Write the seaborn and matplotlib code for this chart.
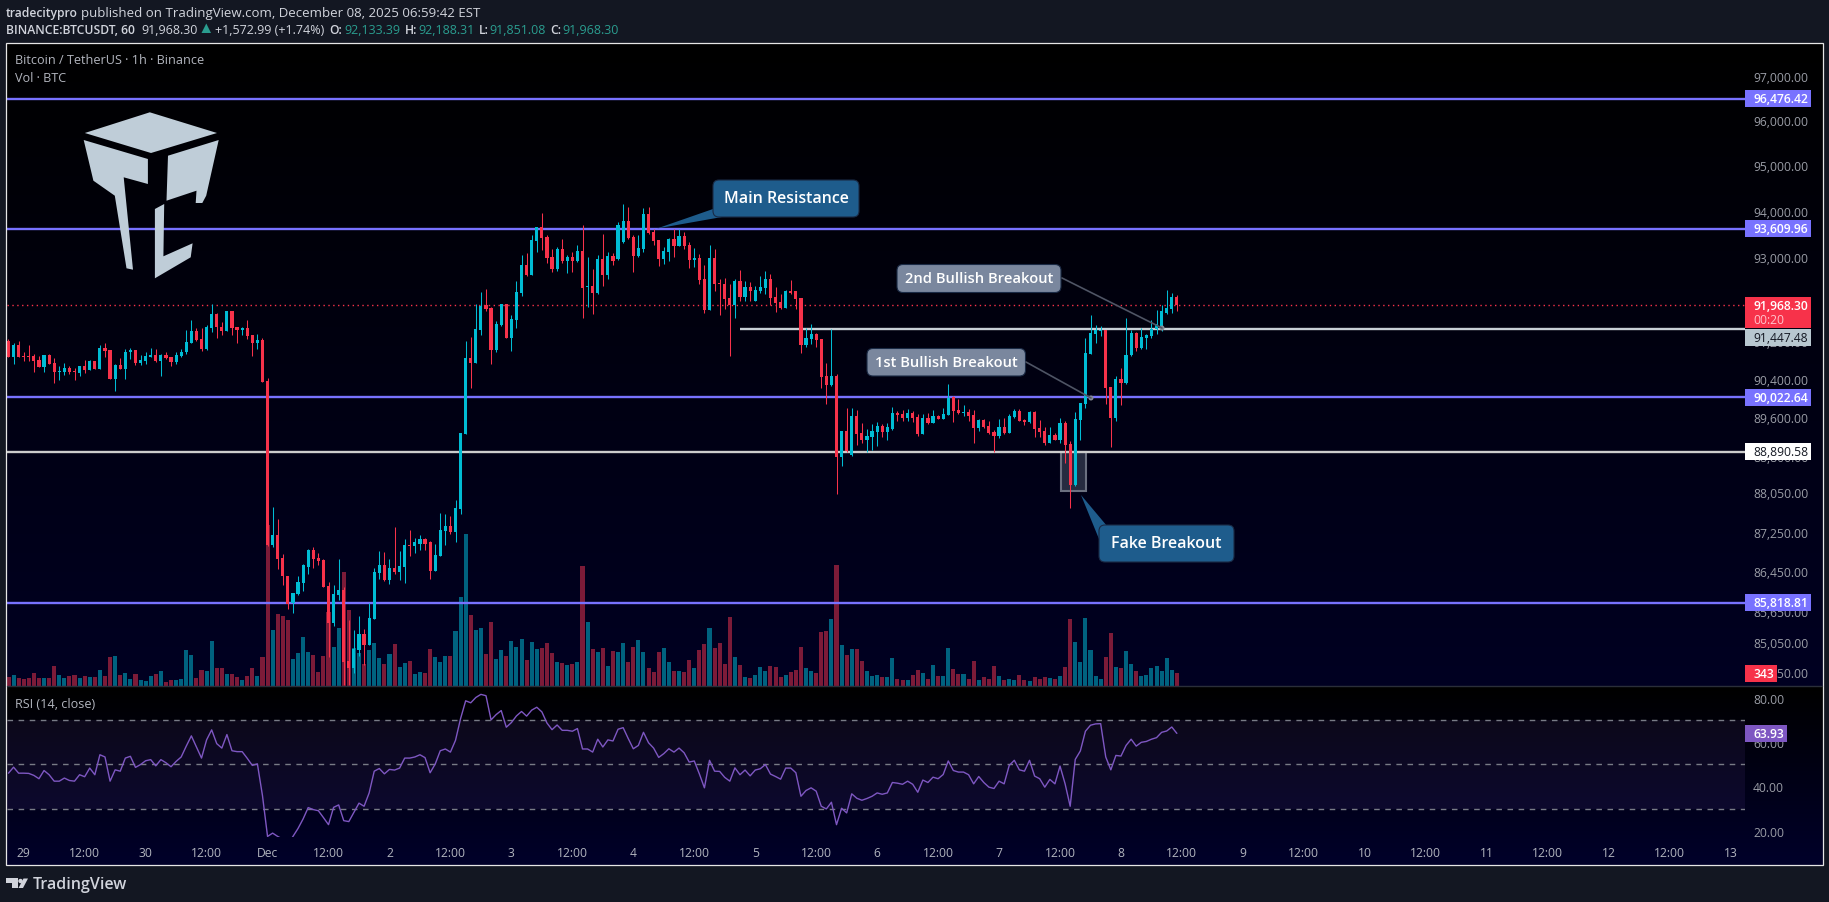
import numpy as np
import pandas as pd
import matplotlib
matplotlib.use("Agg")
import matplotlib.pyplot as plt
import seaborn as sns
from matplotlib.colors import LinearSegmentedColormap
from matplotlib.patches import Rectangle, Polygon, FancyBboxPatch, Circle
from matplotlib.ticker import NullLocator

# BTCUSDT 1h candles, first one is 21:00 on Nov 28
opens = [
    91210,90870,91120,90890,90890,90890,90810,90660,90910,90740,
    90550,90550,90640,90570,90530,90680,90590,90790,90620,91060,
    91020,90400,90700,90620,90960,91020,90740,90790,90870,90910,
    90790,90910,90870,90760,90890,90960,91170,91420,91250,91040,
    91470,91780,91510,91420,91830,91490,91440,91470,91320,91170,
    91230,90360,86990,87194,86730,86366,85820,86003,86225,86548,
    86891,86730,86670,86164,85417,85983,86084,84670,84529,84892,
    85195,84993,85498,86427,86588,86285,86528,86447,86548,86992,
    86972,87012,87113,87033,86467,86770,87275,87376,87255,87719,
    89246,90850,90740,91444,91968,91910,91019,91550,91997,91274,
    91652,92233,92835,92620,93352,93653,93438,93007,92749,93180,
    92921,93007,92921,93137,92362,92384,92233,92964,92620,93022,
    92964,93323,93782,93437,93029,93179,93932,93545,93373,92964,
    93115,93394,93244,93459,93265,92943,92986,92534,91867,92986,
    92448,92426,92125,91960,92491,92147,92362,92061,92276,92340,
    92534,92147,92039,91910,92276,92276,92125,91112,91238,91342,
    91238,90463,90274,90463,88778,89326,88820,89621,89284,89136,
    89199,89305,89410,89305,89368,89685,89666,89582,89693,89610,
    89246,89582,89477,89624,89561,89645,90022,89749,89686,89707,
    89645,89372,89540,89414,89288,89204,89393,89267,89603,89728,
    89540,89498,89707,89372,89309,89078,89225,89120,89477,89057,
    88204,89540,89875,90924,91342,91405,91426,90233,89582,90400,
    90316,90903,91363,91049,91259,91300,91447,91512,91803,91879,92133]
closes = [
    90870,91120,90870,90870,90870,90790,90660,90910,90720,90550,
    90570,90640,90550,90550,90680,90590,90790,90620,91060,91000,
    90400,90700,90620,90980,91020,90740,90810,90890,90910,90790,
    90910,90850,90760,90910,90980,91190,91420,91230,91040,91490,
    91780,91490,91420,91830,91470,91440,91470,91300,91170,91230,
    90340,86992,87194,86710,86350,85801,86023,86245,86570,86891,
    86710,86650,86144,85417,86003,86084,84650,84529,84913,85195,
    84993,85518,86447,86588,86285,86528,86447,86568,86992,86972,
    87033,87113,87012,86467,86790,87295,87376,87255,87739,89267,
    90850,90740,91465,91953,91889,91019,91566,91997,91274,91674,
    92255,92835,92620,93373,93653,93416,92986,92749,93180,92921,
    93007,92921,93137,92341,92384,92233,92964,92620,93029,92921,
    93696,93782,93416,93029,93201,93932,93523,93351,92964,93136,
    93394,93244,93459,93244,92943,92986,92513,91867,92986,92426,
    92426,92104,91960,92491,92147,92362,92276,92297,92362,92534,
    92125,92018,91910,92276,92233,92104,91112,91258,91342,91217,
    90442,90274,90463,88778,89326,88904,89621,89263,89136,89220,
    89326,89410,89305,89389,89685,89642,89582,89686,89582,89246,
    89582,89477,89624,89561,89666,90000,89728,89686,89707,89624,
    89372,89540,89393,89267,89204,89393,89267,89624,89728,89519,
    89498,89707,89351,89288,89078,89225,89120,89477,89036,88204,
    89561,89896,90944,91363,91426,91426,90212,89582,90400,90316,
    90903,91363,91049,91280,91321,91447,91555,91836,91900,92133,91968]
highs = [
    91250,91170,91210,90980,91120,90930,90890,90910,90920,90850,
    90680,90740,90680,90640,90680,90810,90810,90790,91120,91170,
    91020,90720,90850,91040,91060,91020,90910,90960,91060,91040,
    90930,90980,90870,90960,91040,91440,91640,91470,91470,91550,
    92000,91800,91610,91850,91830,91490,91510,91640,91340,91360,
    91270,90424,87759,87517,86810,86366,86023,86366,86590,86911,
    86952,86830,86710,86245,86185,86690,86144,85478,85276,85559,
    85296,85821,86528,86871,86851,86690,87356,86871,87113,87295,
    87134,87194,87134,87073,87012,87638,87618,87578,87900,89267,
    91210,91295,91990,92255,92319,91925,91631,91997,91997,91760,
    92491,93050,93094,93481,93653,93954,93481,93180,93223,93395,
    93050,93115,93266,93696,93007,92749,93050,93502,93115,93093,
    93753,94147,94083,93480,93480,94061,94083,93609,93373,93215,
    93409,93609,93609,93538,93323,93201,93072,92835,93265,93179,
    92534,92556,92426,92534,92728,92491,92469,92383,92599,92706,
    92642,92362,92211,92297,92513,92276,92125,91480,91566,91363,
    91238,90735,91468,90505,89326,89790,89790,89748,89474,89368,
    89453,89495,89453,89474,89811,89727,89749,89770,89728,89666,
    89666,89686,89749,89645,89791,90295,90043,89980,89854,89770,
    89749,89561,89561,89519,89330,89561,89582,89666,89770,89770,
    89561,89728,89728,89540,89393,89393,89267,89582,89519,89099,
    89707,89896,91259,91749,91533,91512,91426,90233,90463,90630,
    91685,91426,91384,91469,91342,91641,91857,91965,92289,92225,92188]
lows = [
    90860,90720,90860,90790,90790,90550,90650,90550,90710,90320,
    90380,90490,90510,90380,90470,90530,90590,90620,90620,90870,
    90400,90150,90620,90400,90830,90700,90700,90720,90870,90760,
    90470,90830,90680,90720,90870,90930,91150,91210,91000,91020,
    91400,91270,91340,91420,91320,91170,91320,91250,90890,91040,
    90340,86972,86950,86490,86185,85700,85620,85983,86063,86407,
    86528,86570,86144,84751,85357,85882,84190,84190,84428,84771,
    84590,84993,85498,86306,86265,86205,86407,86285,86225,86770,
    86830,86891,86891,86306,86467,86770,86992,87214,87053,87618,
    89246,90212,90740,91340,91846,90722,90980,91530,91274,90998,
    91480,92168,92599,92620,93115,93158,92878,92685,92706,92878,
    92663,92685,92900,91695,91932,91781,92212,92384,92534,92835,
    92943,93308,93394,92685,93007,93115,93502,93251,92799,92857,
    92907,93000,93229,93179,92763,92792,92426,91803,91867,92276,
    91760,91889,90889,91695,92061,92061,92061,92061,92233,92211,
    91975,91824,91889,91910,92211,91889,90944,91070,91133,91070,
    90212,89874,90253,88018,88588,88883,88799,89031,89073,88890,
    88925,89010,89199,89136,89347,89516,89519,89519,89498,89211,
    89246,89456,89477,89561,89561,89645,89498,89666,89624,89519,
    89078,89309,89372,89246,88890,89162,89246,89267,89582,89519,
    89435,89477,89183,89183,89036,89078,89120,89078,88648,87739,
    88183,89120,89791,90924,91154,91300,89875,88995,89519,89854,
    90295,90882,90986,91028,91028,91259,91342,91405,91782,91792,91851]
volumes = [
    246,299,220,194,220,352,220,220,220,537,
    299,220,273,299,220,273,246,246,431,273,
    774,801,299,352,194,326,167,141,273,326,
    405,114,167,167,194,959,827,220,431,405,
    1197,484,484,326,326,246,167,273,484,273,
    774,4259,1487,1910,1857,1751,722,880,1302,906,
    827,378,801,1962,1038,1540,3018,2015,1012,880,
    590,959,1144,748,590,854,1118,510,616,669,
    326,378,352,986,774,642,801,801,1461,2358,
    4022,1883,1487,1540,854,1698,722,959,801,1197,
    1038,1250,695,1170,986,1012,1144,880,642,616,
    563,590,642,3177,1698,986,906,1003,528,924,
    898,1135,634,1030,1214,898,475,370,898,1003,
    634,396,396,370,686,475,950,1109,1531,1003,
    1135,581,1822,766,554,238,211,290,502,396,
    528,502,238,290,370,422,1030,475,396,343,
    1426,1452,1769,3194,1082,818,977,977,660,396,
    264,290,238,238,739,185,158,158,290,422,
    343,185,554,264,264,1003,449,317,317,185,
    660,158,238,185,528,264,158,185,158,290,
    158,132,238,185,238,211,185,264,502,1769,
    1162,634,1795,950,264,185,766,1399,502,475,
    924,581,396,264,290,475,528,396,739,422,343]
rsi = [
    46.0,48.7,46.0,46.0,45.9,45.0,43.5,47.2,45.3,42.4,
    42.4,43.8,42.7,42.4,45.3,44.4,48.3,45.3,54.3,53.3,
    42.4,47.5,46.9,52.8,53.6,48.6,49.9,51.6,52.1,49.3,
    52.1,50.7,48.9,51.3,53.3,58.2,62.8,57.8,52.8,61.0,
    65.5,59.3,57.3,63.4,56.1,55.7,55.7,52.7,49.5,50.2,
    35.9,17.5,19.0,17.5,16.3,14.1,17.5,21.1,25.4,30.5,
    29.6,29.1,26.0,22.8,30.6,31.7,24.6,24.2,28.4,32.5,
    31.1,37.1,46.9,48.1,45.7,47.7,47.4,48.3,52.8,52.8,
    53.3,54.3,53.0,46.2,50.1,56.1,56.9,55.5,60.8,70.6,
    78.6,77.7,80.1,81.5,80.9,70.0,72.4,74.2,66.7,68.8,
    71.8,73.8,71.7,74.4,75.7,73.6,68.6,65.6,67.7,65.3,
    65.3,64.9,66.1,56.9,56.9,55.5,61.3,57.8,61.0,60.5,
    65.8,66.5,61.6,57.0,58.5,64.4,59.7,57.3,53.1,54.8,
    57.0,55.5,57.3,55.2,51.0,51.5,45.7,39.4,51.8,46.9,
    46.8,44.1,42.4,48.4,45.3,47.4,44.8,47.4,48.0,49.9,
    45.6,44.5,43.3,48.3,48.3,46.2,35.6,38.2,39.4,37.9,
    31.1,29.9,32.9,22.8,30.2,28.1,36.7,34.7,33.8,34.6,
    35.6,37.1,36.5,37.1,41.8,41.5,41.0,42.4,41.0,37.4,
    42.9,41.8,44.2,43.5,45.4,51.5,47.2,46.5,46.5,45.3,
    41.2,44.5,41.8,39.7,39.1,42.4,41.2,49.5,51.8,47.5,
    46.9,51.8,44.7,43.5,39.7,43.2,41.2,49.2,41.2,31.1,
    52.2,56.0,64.9,67.6,68.2,68.3,53.3,47.5,54.0,53.7,
    58.5,61.3,58.2,59.9,60.3,61.3,62.0,64.4,65.0,66.8,63.93]

purple_levels = [96476.42, 93609.96, 90022.64, 85818.81]
white_levels = [91447.48, 88890.58]
last_price = 91968.30
price_ticks = [97000,96000,95000,94000,93000,92000,91200,90400,89600,88800,88050,87250,86450,85650,85050,84450]
rsi_ticks = [80, 60, 40, 20]
rsi_bands = [70, 50, 30]
day_labels = ["29","30","Dec","2","3","4","5","6","7","8","9","10","11","12","13"]

# COLORS
FIG_BG = "#131722"
UP = "#00bcd4"
DOWN = "#f7324a"
VOL_UP = "#00627f"
VOL_DOWN = "#7c1b38"
PURPLE = "#7872ff"
AXIS_TXT = "#9a9da6"
TXT = "#b2b5be"

sns.set_theme(style="dark")
plt.rcParams["font.family"] = ["Open Sans", "DejaVu Sans"]
W, H = 1829, 903


def px_axes(x0, y0, x1, y1, **kw):
    # axes from pixel box, y measured from the top
    return fig.add_axes([x0 / W, 1 - y1 / H, (x1 - x0) / W, (y1 - y0) / H], **kw)


fig = plt.figure(figsize=(W / 100, H / 100), dpi=100, facecolor=FIG_BG)

# pane backgrounds
for box, end in [((6, 44, 1823, 687), "#000022"), ((6, 687, 1823, 866), "#00002a")]:
    bg = px_axes(*box, zorder=0)
    cmap = LinearSegmentedColormap.from_list("pane", ["#000000", end])
    bg.imshow(np.linspace(0, 1, 256).reshape(-1, 1), aspect="auto", cmap=cmap)
    bg.axis("off")

df = pd.DataFrame({"hour": np.arange(-3, 228), "open": opens, "high": highs, "low": lows,
                   "close": closes, "volume": volumes, "rsi": rsi})
df["up"] = df["close"] >= df["open"]
XLIM = (-3.29, 338.84)

# VOLUME
ax_vol = px_axes(7, 44, 1745, 687, zorder=1)
sns.barplot(data=df, x="hour", y="volume", hue="up", native_scale=True, dodge=False,
            palette={True: VOL_UP, False: VOL_DOWN}, saturation=1, width=0.8,
            legend=False, linewidth=0, ax=ax_vol)
ax_vol.set(xlim=XLIM, ylim=(0, 16975), xlabel="", ylabel="", xticks=[], yticks=[])
ax_vol.patch.set_alpha(0)
for s in ax_vol.spines.values():
    s.set_visible(False)

# CANDLES
ax = px_axes(7, 44, 1745, 687, zorder=2)
ax.patch.set_alpha(0)
ax.set_yscale("log")
colors = [UP if u else DOWN for u in df["up"]]
ax.vlines(df["hour"], df["low"], df["high"], colors=colors, lw=0.75, zorder=3)
body_low = df[["open", "close"]].min(axis=1)
body_high = df[["open", "close"]].max(axis=1)
ax.bar(df["hour"], (body_high - body_low).clip(lower=12), bottom=body_low, width=0.62,
       color=colors, linewidth=0, zorder=4)
ax.hlines(purple_levels, *XLIM, colors=PURPLE, lw=1.7, zorder=2)
ax.hlines(white_levels[0], 141, XLIM[1], colors="#c8d0d6", lw=1.7, zorder=2)
ax.hlines(white_levels[1], *XLIM, colors="#cccccc", lw=1.7, zorder=2)
ax.hlines(last_price, *XLIM, colors=DOWN, lw=1, linestyles=(0, (1, 2.5)), zorder=2)
ax.add_patch(Rectangle((204.1, 88080), 5.1, 88890 - 88080, fc="#262b40", ec="#6b7080", lw=1.5, zorder=1))
ax.set_xlim(XLIM)
ax.set_ylim(84180, 97739)
ax.yaxis.tick_right()
ax.yaxis.set_minor_locator(NullLocator())
ax.set_yticks(price_ticks, [f"{t:,.2f}" for t in price_ticks])
ax.tick_params(axis="y", length=0, pad=5.8, labelsize=8.7, labelcolor=AXIS_TXT)
ax.tick_params(axis="y", which="minor", length=0)
ax.set_xticks([])
for s in ax.spines.values():
    s.set_visible(False)

# RSI
ax_rsi = px_axes(7, 687, 1745, 838, zorder=2)
ax_rsi.patch.set_alpha(0)
ax_rsi.axhspan(30, 70, color="#7e57c2", alpha=0.1, lw=0)
ax_rsi.hlines(rsi_bands, *XLIM, colors="#787b86", lw=1, linestyles=(0, (4, 4)))
sns.lineplot(data=df, x="hour", y="rsi", color="#7e57c2", linewidth=1, ax=ax_rsi)
ax_rsi.set(xlim=XLIM, ylim=(17.25, 85.27), xlabel="", ylabel="")
ax_rsi.yaxis.tick_right()
ax_rsi.set_yticks(rsi_ticks, [f"{t:.2f}" for t in rsi_ticks])
ticks = np.arange(0, 337, 12)
labels = []
for i, t in enumerate(ticks):
    labels.append(day_labels[i // 2] if i % 2 == 0 else "12:00")
ax_rsi.set_xticks(ticks, labels)
ax_rsi.tick_params(axis="y", length=0, pad=5.8, labelsize=8.7, labelcolor=AXIS_TXT)
ax_rsi.tick_params(axis="x", length=0, pad=6.5, labelsize=8.7, labelcolor=TXT)
for s in ax_rsi.spines.values():
    s.set_visible(False)

# OVERLAY in pixels: frame, tags, callouts, logos, header
ov = fig.add_axes([0, 0, 1, 1], zorder=5)
ov.set_xlim(0, W)
ov.set_ylim(H, 0)
ov.axis("off")
ov.patch.set_alpha(0)
ov.add_patch(Rectangle((6, 44), 1817, 822, fc="none", ec="#e6e6e6", lw=0.9))
ov.plot([7, 1822], [687, 687], color="#2a2e39", lw=1)


def y_of(axis, value):
    return H - axis.transData.transform((0, value))[1]


def tag(y, label, bg, fg="white", w=66, weight="semibold"):
    ov.add_patch(Rectangle((1745, y - 8.5), w, 17, fc=bg, lw=0))
    ov.text(1753, y, label, color=fg, fontsize=8.7, fontweight=weight, va="center", ha="left")


for lv in purple_levels:
    tag(y_of(ax, lv), f"{lv:,.2f}", PURPLE)
y_last = y_of(ax, last_price)
ov.add_patch(Rectangle((1745, y_last - 8), 66, 31, fc=DOWN, lw=0))
ov.text(1753, y_last, f"{last_price:,.2f}", color="white", fontsize=8.7, fontweight="semibold", va="center")
ov.text(1753, y_last + 14, "00:20", color="#ffc4cc", fontsize=8.7, va="center")
tag(y_of(ax, white_levels[0]) + 8, f"{white_levels[0]:,.2f}", "#b8c7d0", "#131722", weight="normal")
tag(y_of(ax, white_levels[1]), f"{white_levels[1]:,.2f}", "#ffffff", "#131722", weight="normal")
tag(y_of(ax_vol, volumes[-1]), f"{volumes[-1]}", DOWN, w=32)
tag(y_of(ax_rsi, rsi[-1]), f"{rsi[-1]:.2f}", "#7e57c2", w=42)


def callout(x0, y0, x1, y1, text, fc, tail=None, fs=11.5):
    if tail:
        ov.add_patch(Polygon(tail, fc=fc, lw=0))
    ov.add_patch(FancyBboxPatch((x0, y0), x1 - x0, y1 - y0, boxstyle="round,pad=0,rounding_size=6",
                                fc=fc, ec="#1a2a45", lw=0.8))
    ov.text((x0 + x1) / 2, (y0 + y1) / 2, text, color="white", fontsize=fs, fontweight="semibold",
            ha="center", va="center")


callout(713, 181, 859, 218, "Main Resistance", "#1e5c8c", [(657, 229.5), (713, 210), (722, 218)])
callout(1099, 526, 1234, 563, "Fake Breakout", "#1e5c8c", [(1081, 496), (1107, 527), (1099, 540)])
for p, q in [((1062, 279), (1162, 329)), ((1026, 363), (1091, 399))]:
    ov.plot([p[0], q[0]], [p[1], q[1]], color="#4e5464", lw=1.2)
    ov.add_patch(Circle(q, 2.5, fc="#868b95", lw=0))
callout(897, 265.5, 1061, 293.5, "2nd Bullish Breakout", "#7a879e", fs=10.6)
callout(867, 349.5, 1025.5, 377, "1st Bullish Breakout", "#7a879e", fs=10.6)

# brand mark
LOGO = "#bfcdd8"
logo_parts = [
    [(84.8, 134), (149.8, 113.3), (217, 134), (151, 154)],
    [(83.7, 141), (147.9, 160), (147.9, 185), (123.7, 178.3), (133, 270.7), (126.5, 269.3), (114.8, 196.7), (93.4, 181.7)],
    [(218.7, 141), (168, 156.7), (166.5, 201.7), (196.5, 191.7), (195.7, 204), (202.3, 204), (206.2, 196.7)],
    [(154.9, 210), (164.2, 205), (163.4, 257.3), (192.6, 244.3), (190.7, 258.3), (154.9, 279.3)],
]
for part in logo_parts:
    ov.add_patch(Polygon(part, fc=LOGO, lw=0, joinstyle="round"))

# header
HEAD = "#d1d4dc"
VAL = "#2a9d8f"
HS = 9.0
ov.text(6, 13, "tradecitypro", color=HEAD, fontsize=8.7, fontweight="semibold", va="center")
ov.text(81, 13, "published on TradingView.com, December 08, 2025 06:59:42 EST", color=HEAD, fontsize=9.5, va="center")
ov.text(6, 30, "BINANCE:BTCUSDT, 60", color=HEAD, fontsize=8.7, fontweight="semibold", va="center")
ov.text(141, 30, "91,968.30", color=HEAD, fontsize=HS, va="center")
ov.add_patch(Polygon([(206.3, 24.5), (211, 34), (201.5, 34)], fc=VAL, lw=0))
ov.text(215, 30, "+1,572.99 (+1.74%)", color=HEAD, fontsize=HS, va="center")
for x_k, k, x_v, v in [(329, "O:", 344, "92,133.39"), (404.5, "H:", 418, "92,188.31"),
                       (479, "L:", 489.5, "91,851.08"), (550, "C:", 562, "91,968.30")]:
    ov.text(x_k, 30, k, color=HEAD, fontsize=8.7, fontweight="semibold", va="center")
    ov.text(x_v, 30, v, color=VAL, fontsize=HS, va="center")

# pane legends
ov.text(15, 60.5, "Bitcoin / TetherUS · 1h · Binance", color=TXT, fontsize=9.1, va="center")
ov.text(15, 78.5, "Vol · BTC", color=TXT, fontsize=9.1, va="center")
ov.text(15, 705, "RSI (14, close)", color=TXT, fontsize=9.1, va="center")

# TradingView mark
ov.add_patch(Polygon([(6, 879.5), (17.5, 879.5), (17.5, 889), (12, 889), (12, 884.5), (6, 884.5)], fc=HEAD, lw=0))
ov.add_patch(Circle((20.5, 882), 2.2, fc=HEAD, lw=0))
ov.add_patch(Polygon([(23.5, 879.5), (28, 879.5), (23, 889), (18.5, 889)], fc=HEAD, lw=0))
ov.text(33, 885, "TradingView", color=HEAD, fontsize=11.5, fontweight="semibold", va="center")

fig.savefig("out.png", dpi=100, facecolor=FIG_BG)
